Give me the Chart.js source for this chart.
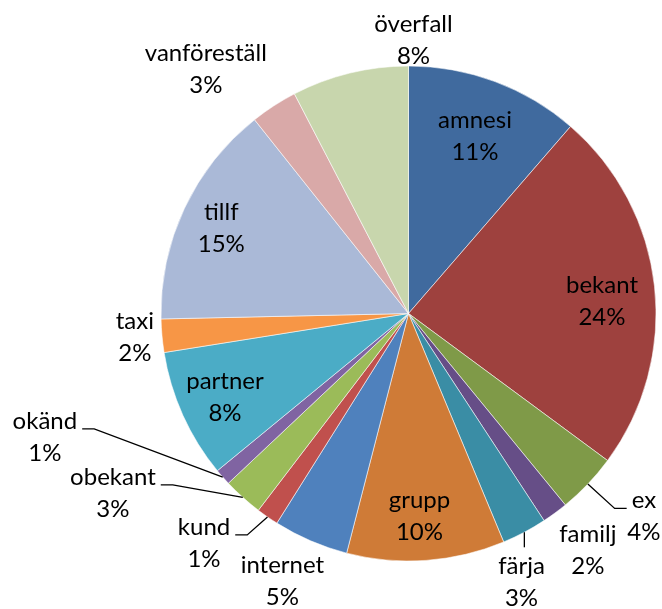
<!DOCTYPE html>
<html>
<head>
<meta charset="utf-8">
<script src="https://cdn.jsdelivr.net/npm/chart.js@4/dist/chart.umd.min.js"></script>
<style>
html,body{margin:0;padding:0;background:#fff;}
canvas{display:block;}
</style>
</head>
<body>
<canvas id="c" width="662" height="609"></canvas>
<script>
// ---- data ----
const categories = ["amnesi","bekant","ex","familj","färja","grupp","internet","kund","obekant","okänd","partner","taxi","tillf","vanföreställ","överfall"];
const shares = [11.36, 23.75, 3.95, 1.70, 2.94, 10.30, 4.90, 1.45, 2.60, 1.07, 8.43, 2.17, 14.66, 3.06, 7.62];
const sliceColors = ["#406A9E","#9E413E","#7F9A48","#664E87","#3A8DA5","#CF7B37","#4F81BD","#C0504D","#9BBB59","#8064A2","#4BACC6","#F79646","#AAB9D7","#D9A9A8","#C8D6AD"];

// ---- label layout (relative to each slice's geometry) ----
// radial distance as a fraction of the radius, angular shift in degrees, leader style
const labelRadius = [0.736, 0.782, 1.277, 1.225, 1.208, 0.852, 1.224, 1.266, 1.414, 1.562, 0.829, 1.113, 0.819, 1.257, 1.074];
const labelShift  = [0.95, 4.9, -1.7, 0, 5.7, 1.1, 1.3, 6.0, 15.6, 21.5, -2.3, -1.4, -2.6, -7.7, 14.8];
const leaderStyle = ["","","side","","down","","","side","side","side","","","","",""];

const FONT = "24px Lato, 'Open Sans', sans-serif";
const LINE = 16;

const labelPlugin = {
  id: 'pieLabels',
  afterDatasetsDraw(chart) {
    const ctx = chart.ctx;
    const meta = chart.getDatasetMeta(0);
    const total = shares.reduce((a, b) => a + b, 0);
    ctx.save();
    ctx.font = FONT;
    ctx.fillStyle = '#000';
    ctx.textAlign = 'center';
    ctx.textBaseline = 'alphabetic';
    meta.data.forEach((arc, i) => {
      const p = arc.getProps(['x','y','startAngle','endAngle','outerRadius'], true);
      const mid = (p.startAngle + p.endAngle) / 2;
      const a = mid + labelShift[i] * Math.PI / 180;
      const lx = p.x + Math.cos(a) * p.outerRadius * labelRadius[i];
      const ly = p.y + Math.sin(a) * p.outerRadius * labelRadius[i];
      const t1 = categories[i];
      const t2 = Math.round(shares[i] / total * 100) + '%';
      ctx.fillText(t1, lx, ly - LINE);
      ctx.fillText(t2, lx, ly + LINE);
      const ax = p.x + Math.cos(mid) * p.outerRadius;
      const ay = p.y + Math.sin(mid) * p.outerRadius;
      if (leaderStyle[i] === 'side') {
        const w = ctx.measureText(t1).width;
        const dir = lx > p.x ? -1 : 1; // direction toward the pie
        const ex = lx + dir * (w / 2 + 5);
        const ey = ly - LINE;
        ctx.beginPath();
        ctx.strokeStyle = '#000';
        ctx.lineWidth = 1.3;
        ctx.moveTo(ax, ay);
        ctx.lineTo(ex + dir * 12, ey);
        ctx.lineTo(ex, ey);
        ctx.stroke();
      } else if (leaderStyle[i] === 'down') {
        ctx.beginPath();
        ctx.strokeStyle = '#000';
        ctx.lineWidth = 1.3;
        ctx.moveTo(ax, ay);
        ctx.lineTo(ax, ly - LINE - 27);
        ctx.stroke();
      }
    });
    ctx.restore();
  }
};

new Chart(document.getElementById('c'), {
  type: 'pie',
  data: {
    labels: categories,
    datasets: [{
      data: shares,
      backgroundColor: sliceColors,
      borderColor: 'rgba(255,255,255,0.55)',
      borderWidth: 1
    }]
  },
  options: {
    responsive: false,
    animation: false,
    radius: 247.5,
    layout: { padding: { left: 160, right: 5, top: 65, bottom: 47 } },
    plugins: { legend: { display: false }, tooltip: { enabled: false } }
  },
  plugins: [labelPlugin]
});
</script>
</body>
</html>
